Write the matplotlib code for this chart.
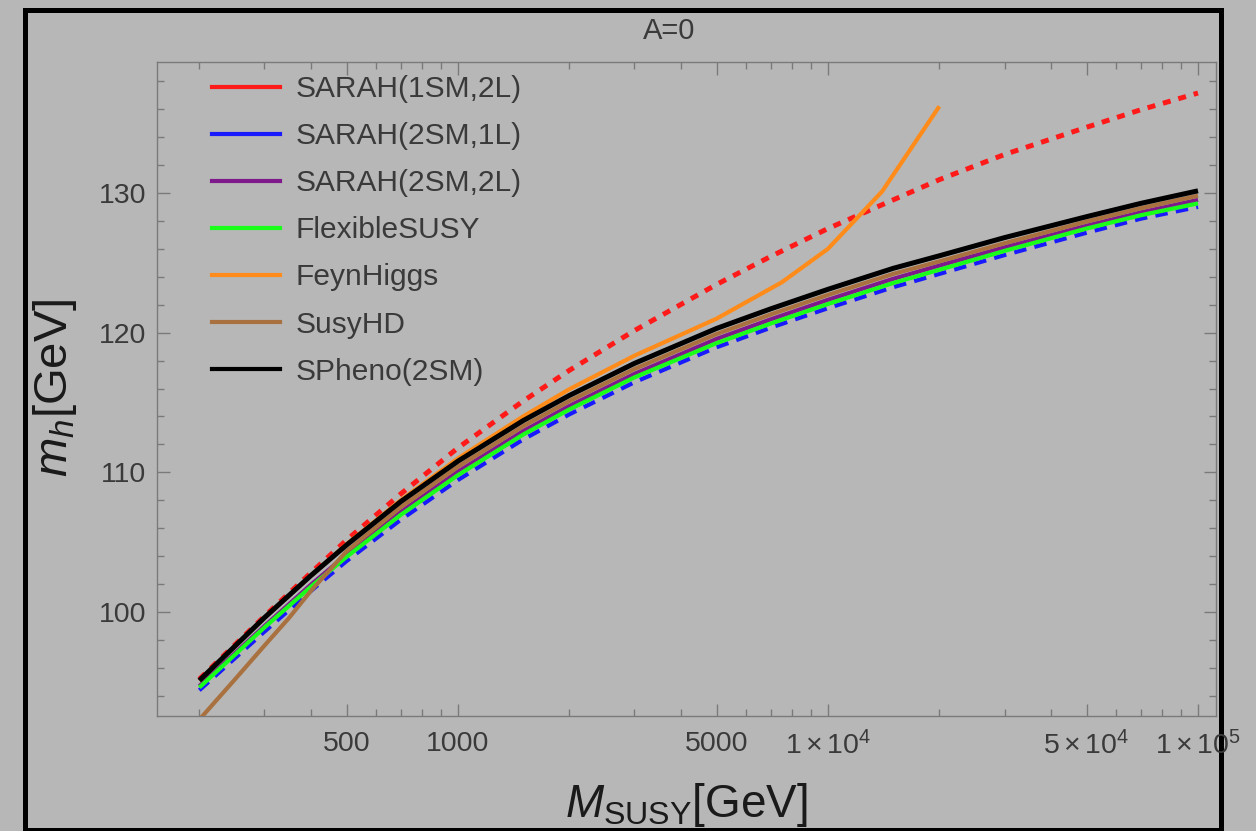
import matplotlib
matplotlib.use("Agg")
import matplotlib.pyplot as plt
from matplotlib.lines import Line2D
from matplotlib.patches import Rectangle
from matplotlib.ticker import FixedLocator, NullFormatter

plt.rcParams['font.family'] = ['Liberation Sans', 'DejaVu Sans']
plt.rcParams['mathtext.fontset'] = 'custom'
plt.rcParams['mathtext.rm'] = 'Liberation Sans'
plt.rcParams['mathtext.it'] = 'Liberation Sans:italic'
plt.rcParams['mathtext.bf'] = 'Liberation Sans:bold'

# ---------------- data ----------------
msusy = [200, 300, 400, 500, 700, 1000, 1500, 2000, 3000, 5000, 7000,
         10000, 15000, 20000, 30000, 50000, 70000, 100000]

sarah_1sm_2l = [95.2, 99.7, 102.8, 105.15, 108.45, 111.75, 115.1, 117.3, 120.15,
                123.45, 125.45, 127.45, 129.5, 130.95, 132.75, 134.7, 135.95, 137.15]
sarah_2sm_1l = [94.4, 98.6, 101.5, 103.65, 106.6, 109.45, 112.35, 114.15, 116.45,
                118.95, 120.35, 121.75, 123.25, 124.2, 125.55, 127.15, 128.15, 129.0]
sarah_2sm_2l = [94.7, 99.0, 101.95, 104.1, 107.15, 110.05, 112.95, 114.75, 117.05,
                119.55, 120.95, 122.35, 123.85, 124.8, 126.1, 127.65, 128.6, 129.5]
flexiblesusy = [94.6, 98.9, 101.8, 103.95, 106.95, 109.8, 112.7, 114.5, 116.8,
                119.25, 120.65, 122.05, 123.55, 124.5, 125.85, 127.45, 128.4, 129.25]
spheno_2sm = [95.1, 99.6, 102.6, 104.8, 107.9, 110.8, 113.7, 115.5, 117.8,
              120.3, 121.7, 123.1, 124.6, 125.5, 126.8, 128.3, 129.25, 130.15]

msusy_hd = [200, 250, 300, 350, 400, 500, 700, 1000, 1500, 2000, 3000, 5000, 7000,
            10000, 15000, 20000, 30000, 50000, 70000, 100000]
susyhd = [92.3, 95.2, 97.6, 99.6, 101.5, 104.35, 107.5, 110.4, 113.3, 115.1, 117.4,
          119.9, 121.3, 122.7, 124.2, 125.1, 126.4, 127.95, 128.9, 129.8]

msusy_fh = [200, 300, 400, 500, 700, 1000, 1500, 2000, 3000, 5000, 7500,
            10000, 14000, 20000]
feynhiggs = [95.1, 99.6, 102.6, 104.85, 108.0, 111.0, 114.0, 115.95, 118.35,
             121.0, 123.6, 126.0, 130.1, 136.2]

labels = ["SARAH(1SM,2L)", "SARAH(2SM,1L)", "SARAH(2SM,2L)", "FlexibleSUSY",
          "FeynHiggs", "SusyHD", "SPheno(2SM)"]
colors = ["#ff1a1a", "#1a1aff", "#7f1a8c", "#1aff1a", "#ff8c1a", "#a8713f", "#000000"]

xticks_major = [500, 1000, 5000, 10000, 50000, 100000]
xtick_labels = ["500", "1000", "5000", r"$1\times10^{4}$", r"$5\times10^{4}$", r"$1\times10^{5}$"]
yticks_major = [100, 110, 120, 130]

# ---------------- figure ----------------
W, H = 1256, 831
bg = "#b7b7b7"
fig = plt.figure(figsize=(W / 100, H / 100), dpi=100, facecolor=bg)
L, R, T, B = 157, 1216, 62, 716
ax = fig.add_axes([L / W, 1 - B / H, (R - L) / W, (B - T) / H])
ax.set_facecolor(bg)
ax.set_xscale("log")
ax.set_xlim(153.7, 111850)
ax.set_ylim(92.56, 139.37)

lw = 3.0
xs = [msusy, msusy, msusy, msusy, msusy_fh, msusy_hd, msusy]
ys = [sarah_1sm_2l, sarah_2sm_1l, sarah_2sm_2l, flexiblesusy, feynhiggs, susyhd, spheno_2sm]
for i, (lab, col) in enumerate(zip(labels, colors)):
    kw = dict(color=col, lw=lw, zorder=3 + i, solid_capstyle="butt",
              solid_joinstyle="round")
    if lab == "SARAH(1SM,2L)":
        kw.update(lw=3.6, dashes=(1.6, 1.6), dash_capstyle="butt")
    elif lab == "SARAH(2SM,1L)":
        kw.update(dashes=(3, 2))
    elif lab == "SPheno(2SM)":
        kw.update(lw=3.6)
    ax.plot(xs[i], ys[i], **kw)

# ticks
minor_x = []
for dec in [100, 1000, 10000]:
    for k in range(2, 10):
        v = k * dec
        if v not in xticks_major:
            minor_x.append(v)
ax.xaxis.set_major_locator(FixedLocator(xticks_major))
ax.xaxis.set_minor_locator(FixedLocator(minor_x))
ax.set_xticklabels(xtick_labels)
ax.xaxis.set_minor_formatter(NullFormatter())
ax.yaxis.set_major_locator(FixedLocator(yticks_major))
ax.yaxis.set_minor_locator(FixedLocator([v for v in range(94, 140, 2) if v % 10 != 0]))

tc = "#7a7a7a"
lc = "#3a3a3a"
ax.tick_params(which="both", direction="in", top=True, right=True, color=tc,
               labelcolor=lc, labelsize=20.5, width=1.0)
ax.tick_params(which="major", length=9)
ax.tick_params(which="minor", length=5)
ax.tick_params(axis="x", which="major", pad=11)
ax.tick_params(axis="y", which="major", pad=8)
for s in ax.spines.values():
    s.set_color(tc)
    s.set_linewidth(1.0)

# legend
handles = [Line2D([0], [0], color=c, lw=3.0) for c in colors]
leg = ax.legend(handles, labels, loc="upper left", frameon=False,
                bbox_to_anchor=((212 - L) / (R - L), 1 - (75 - T) / (B - T)),
                borderaxespad=0, borderpad=0, fontsize=21.5, handlelength=2.27,
                handletextpad=0.53, labelspacing=0.64)
for t in leg.get_texts():
    t.set_color(lc)

# title and axis labels
fig.text(669 / W, 1 - 31 / H, "A=0", ha="center", va="center", fontsize=21, color=lc)
fig.text(686 / W, 1 - 817 / H, r"$M_{\mathrm{SUSY}}$[GeV]", ha="center", va="baseline",
         fontsize=33, color="#1a1a1a")
fig.text(55 / W, 1 - 388 / H, r"$m_h$[GeV]", ha="center", va="center", rotation=90,
         fontsize=34, color="#1a1a1a")

# black frame
fig.add_artist(Rectangle((25 / W, 1 - 830 / H), (1221 - 25) / W, (830 - 10) / H,
                         transform=fig.transFigure, fill=False, lw=3.6, ec="black",
                         zorder=0))

fig.savefig("out.png", dpi=100, facecolor=bg)
